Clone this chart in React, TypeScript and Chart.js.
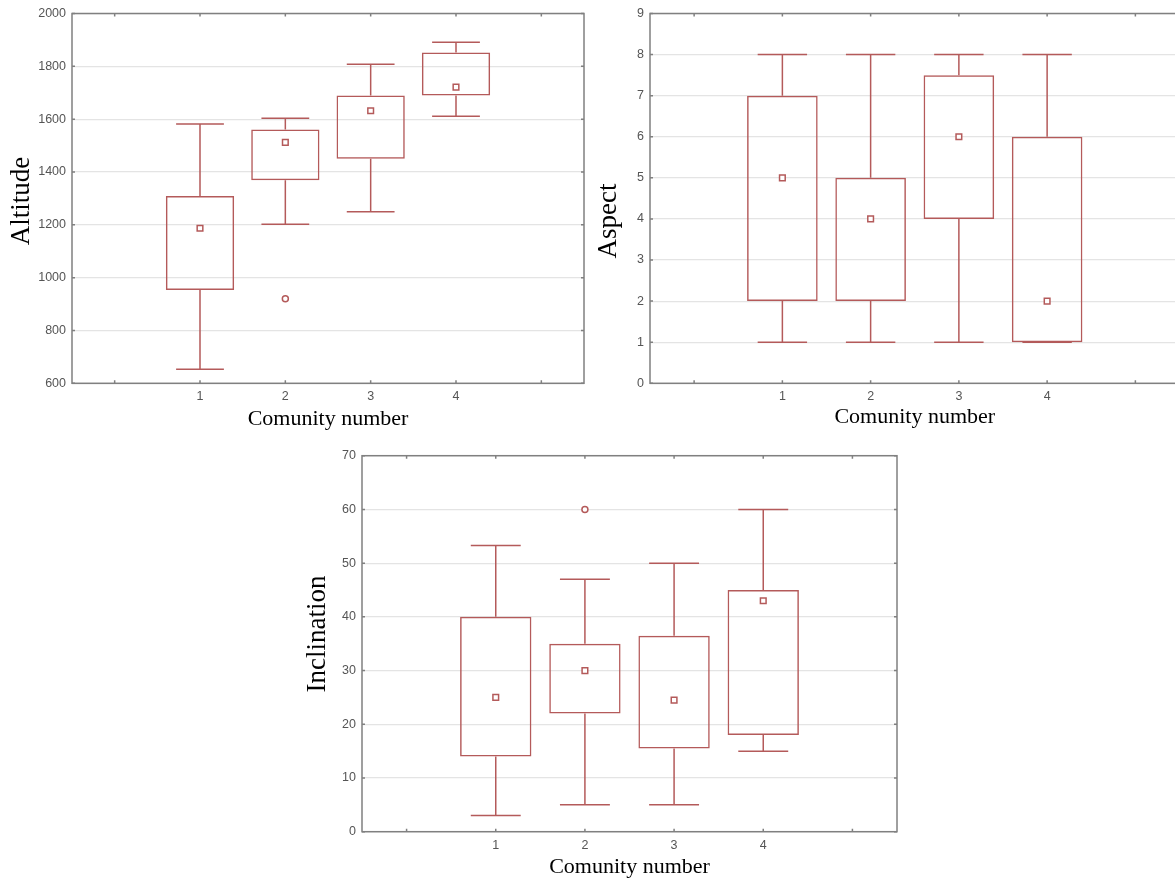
import React, { useEffect, useRef } from 'react';
import { Chart, registerables } from 'chart.js';

Chart.register(...registerables);

// ---------- data ----------
const categories = [1, 2, 3, 4];
const xTickValues = [0, 1, 2, 3, 4, 5];
const xTickLabels = ['', '1', '2', '3', '4', ''];
const xAxisTitle = 'Comunity number';

const altitudeMin = [653, 1202, 1249, 1611];
const altitudeQ1 = [953, 1369, 1450, 1690];
const altitudeMedian = [1187, 1512, 1632, 1721];
const altitudeQ3 = [1309, 1561, 1690, 1852];
const altitudeMax = [1582, 1603, 1808, 1891];
const altitudeOutlierX = [2];
const altitudeOutlierY = [920];

const aspectMin = [1, 1, 1, 1];
const aspectQ1 = [2, 2, 4, 1];
const aspectMedian = [5, 4, 6, 2];
const aspectQ3 = [7, 5, 7.5, 6];
const aspectMax = [8, 8, 8, 8];
const aspectOutlierX: number[] = [];
const aspectOutlierY: number[] = [];

const inclinationMin = [3, 5, 5, 15];
const inclinationQ1 = [14, 22, 15.5, 18];
const inclinationMedian = [25, 30, 24.5, 43];
const inclinationQ3 = [40, 35, 36.5, 45];
const inclinationMax = [53.3, 47, 50, 60];
const inclinationOutlierX = [2];
const inclinationOutlierY = [60];

// ---------- styles ----------
const BOX_COLOR = '#b45a5a';
const FRAME_COLOR = '#808080';
const GRID_COLOR = '#e4e4e4';
const TICK_TEXT = '#555555';
const SANS = "'Liberation Sans', Arial, sans-serif";
const SERIF = "'Liberation Serif', 'Times New Roman', serif";
const CAP_FRACTION = 0.56;

type Spec = {
  id: string;
  yTitle: string;
  yMin: number;
  yMax: number;
  yStep: number;
  mins: number[];
  q1: number[];
  medians: number[];
  q3: number[];
  maxs: number[];
  outX: number[];
  outY: number[];
  left: number;
  top: number;
  width: number;
  height: number;
  padTop: number;
  padRight: number;
  yAxisWidth: number;
  xAxisHeight: number;
  xTitlePad: number;
  yTitleX: number;
  yTitleY: number;
};

const panels: Spec[] = [
  {
    id: 'altitude', yTitle: 'Altitude', yMin: 600, yMax: 2000, yStep: 200,
    mins: altitudeMin, q1: altitudeQ1, medians: altitudeMedian, q3: altitudeQ3, maxs: altitudeMax,
    outX: altitudeOutlierX, outY: altitudeOutlierY,
    left: 0, top: 0, width: 590, height: 440,
    padTop: 13.3, padRight: 6, yAxisWidth: 72, xAxisHeight: 56.7, xTitlePad: 8,
    yTitleX: 22, yTitleY: 201,
  },
  {
    id: 'aspect', yTitle: 'Aspect', yMin: 0, yMax: 9, yStep: 1,
    mins: aspectMin, q1: aspectQ1, medians: aspectMedian, q3: aspectQ3, maxs: aspectMax,
    outX: aspectOutlierX, outY: aspectOutlierY,
    left: 585, top: 0, width: 600, height: 440,
    padTop: 13.3, padRight: 3, yAxisWidth: 65, xAxisHeight: 56.7, xTitlePad: 10,
    yTitleX: 24, yTitleY: 221,
  },
  {
    id: 'inclination', yTitle: 'Inclination', yMin: 0, yMax: 70, yStep: 10,
    mins: inclinationMin, q1: inclinationQ1, medians: inclinationMedian, q3: inclinationQ3, maxs: inclinationMax,
    outX: inclinationOutlierX, outY: inclinationOutlierY,
    left: 290, top: 440, width: 620, height: 445,
    padTop: 15.7, padRight: 13, yAxisWidth: 72, xAxisHeight: 53.3, xTitlePad: 5,
    yTitleX: 28, yTitleY: 194,
  },
];

function makePlugins(spec: Spec) {
  const framePlugin = {
    id: 'frameTicks-' + spec.id,
    beforeDatasetsDraw(chart: any) {
      const { ctx, chartArea: a, scales } = chart;
      const x = scales.x;
      const y = scales.y;
      const L = 3;
      ctx.save();
      ctx.strokeStyle = FRAME_COLOR;
      ctx.lineWidth = 1.5;
      ctx.beginPath();
      for (const v of xTickValues) {
        const px = x.getPixelForValue(v);
        ctx.moveTo(px, a.top);
        ctx.lineTo(px, a.top + L);
        ctx.moveTo(px, a.bottom);
        ctx.lineTo(px, a.bottom - L);
      }
      for (const t of y.ticks) {
        const py = y.getPixelForValue(t.value);
        ctx.moveTo(a.left, py);
        ctx.lineTo(a.left + L, py);
        ctx.moveTo(a.right, py);
        ctx.lineTo(a.right - L, py);
      }
      ctx.stroke();
      ctx.strokeRect(a.left, a.top, a.right - a.left, a.bottom - a.top);
      ctx.restore();
    },
  };

  const whiskerPlugin = {
    id: 'whiskers-' + spec.id,
    beforeDatasetsDraw(chart: any) {
      const { ctx, scales } = chart;
      const x = scales.x;
      const y = scales.y;
      const half = ((x.getPixelForValue(1) - x.getPixelForValue(0)) * CAP_FRACTION) / 2;
      ctx.save();
      ctx.strokeStyle = BOX_COLOR;
      ctx.lineWidth = 1.5;
      ctx.beginPath();
      categories.forEach((c, i) => {
        const px = x.getPixelForValue(c);
        const pMax = y.getPixelForValue(spec.maxs[i]);
        const pQ3 = y.getPixelForValue(spec.q3[i]);
        const pQ1 = y.getPixelForValue(spec.q1[i]);
        const pMin = y.getPixelForValue(spec.mins[i]);
        ctx.moveTo(px, pQ3);
        ctx.lineTo(px, pMax);
        ctx.moveTo(px - half, pMax);
        ctx.lineTo(px + half, pMax);
        ctx.moveTo(px, pQ1);
        ctx.lineTo(px, pMin);
        ctx.moveTo(px - half, pMin);
        ctx.lineTo(px + half, pMin);
      });
      ctx.stroke();
      ctx.restore();
    },
  };

  const yTitlePlugin = {
    id: 'ytitle-' + spec.id,
    afterDraw(chart: any) {
      const { ctx } = chart;
      ctx.save();
      ctx.translate(spec.yTitleX, spec.yTitleY);
      ctx.rotate(-Math.PI / 2);
      ctx.font = `27px ${SERIF}`;
      ctx.fillStyle = '#000000';
      ctx.textAlign = 'center';
      ctx.textBaseline = 'middle';
      ctx.fillText(spec.yTitle, 0, 0);
      ctx.restore();
    },
  };

  return [framePlugin, whiskerPlugin, yTitlePlugin];
}

function BoxPanel({ spec }: { spec: Spec }) {
  const ref = useRef<HTMLCanvasElement | null>(null);

  useEffect(() => {
    if (!ref.current) return;
    const tickFont = { family: SANS, size: 12.5 };
    const chart = new Chart(ref.current, {
      type: 'bar',
      data: {
        datasets: [
          {
            type: 'scatter',
            label: 'Median',
            data: categories.map((c, i) => ({ x: c, y: spec.medians[i] })),
            pointStyle: 'rect',
            pointRadius: 4,
            borderColor: BOX_COLOR,
            backgroundColor: '#ffffff',
            borderWidth: 1.5,
            order: 1,
          } as any,
          {
            type: 'scatter',
            label: 'Outliers',
            data: spec.outX.map((xv, i) => ({ x: xv, y: spec.outY[i] })),
            pointStyle: 'circle',
            pointRadius: 3,
            borderColor: BOX_COLOR,
            backgroundColor: '#ffffff',
            borderWidth: 1.5,
            order: 1,
          } as any,
          {
            type: 'bar',
            label: 'Box',
            data: categories.map((c, i) => ({ x: c, y: [spec.q1[i], spec.q3[i]] })),
            backgroundColor: 'rgba(255,255,255,0)',
            borderColor: BOX_COLOR,
            borderWidth: 1.5,
            borderSkipped: false,
            barPercentage: 1,
            categoryPercentage: 0.8,
            order: 2,
          } as any,
        ],
      },
      options: {
        animation: false,
        responsive: false,
        maintainAspectRatio: false,
        layout: { padding: { top: spec.padTop, right: spec.padRight, left: 0, bottom: 0 } },
        plugins: {
          legend: { display: false },
          tooltip: { enabled: false },
        },
        scales: {
          x: {
            type: 'linear',
            min: -0.5,
            max: 5.5,
            offset: false,
            afterBuildTicks: (s: any) => {
              s.ticks = xTickValues.map((v) => ({ value: v }));
            },
            ticks: {
              autoSkip: false,
              maxRotation: 0,
              padding: 6,
              font: tickFont,
              color: TICK_TEXT,
              callback: (v: any) => {
                const idx = xTickValues.indexOf(Number(v));
                return idx >= 0 ? xTickLabels[idx] : '';
              },
            },
            grid: { display: false, drawTicks: false },
            border: { display: false },
            title: {
              display: true,
              text: xAxisTitle,
              color: '#000000',
              font: { family: SERIF, size: 22 },
              padding: { top: 0, bottom: spec.xTitlePad },
            },
            afterFit: (s: any) => {
              s.height = spec.xAxisHeight;
            },
          } as any,
          y: {
            type: 'linear',
            min: spec.yMin,
            max: spec.yMax,
            ticks: {
              stepSize: spec.yStep,
              padding: 6,
              font: tickFont,
              color: TICK_TEXT,
              callback: (v: any) => String(v),
            },
            grid: { color: GRID_COLOR, lineWidth: 1.2, drawTicks: false },
            border: { display: false },
            afterFit: (s: any) => {
              s.width = spec.yAxisWidth;
            },
          } as any,
        },
      } as any,
      plugins: makePlugins(spec) as any,
    });
    return () => chart.destroy();
  }, [spec]);

  return (
    <canvas
      ref={ref}
      width={spec.width}
      height={spec.height}
      style={{
        position: 'absolute',
        left: spec.left,
        top: spec.top,
        width: spec.width,
        height: spec.height,
      }}
    />
  );
}

export default function App() {
  return (
    <div
      style={{
        position: 'absolute',
        left: 0,
        top: 0,
        width: 1175,
        height: 879,
        overflow: 'hidden',
        background: '#ffffff',
      }}
    >
      {panels.map((p) => (
        <BoxPanel key={p.id} spec={p} />
      ))}
    </div>
  );
}
